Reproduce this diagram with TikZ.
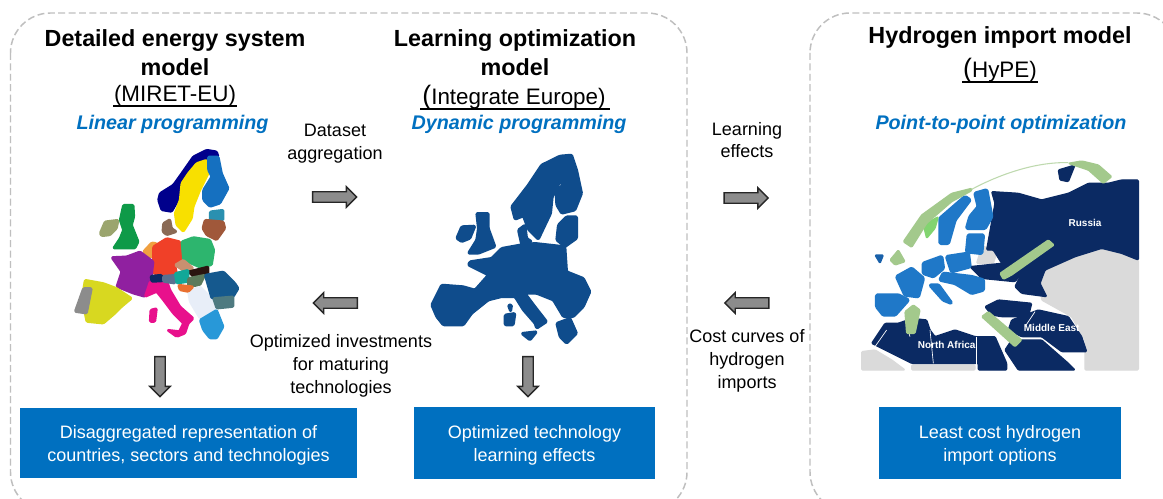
\documentclass[tikz,border=0pt]{standalone}
\usepackage{fontspec}
\setmainfont{Liberation Sans}
\usetikzlibrary{shapes.arrows}
\definecolor{bluebox}{HTML}{0070C0}
\definecolor{navy}{HTML}{0B2A63}
\definecolor{euro}{HTML}{1F78C8}
\definecolor{mapblue}{HTML}{0F4C8C}
\definecolor{arrowgreen}{HTML}{A3C98C}
\definecolor{land}{HTML}{DADADA}
\tikzset{
 panel/.style={draw=black!25,line width=1.1pt,dash pattern=on 5.2pt off 2.6pt,rounded corners=30pt},
 titletext/.style={font=\bfseries\fontsize{17.5}{21.75}\selectfont,align=center,text=black,inner sep=0},
 subtext/.style={font=\fontsize{16.8}{20}\selectfont,anchor=base,inner sep=0},
 methodtext/.style={font=\bfseries\itshape\fontsize{14.8}{18}\selectfont,text=bluebox,anchor=base,inner sep=0},
 labeltext/.style={font=\fontsize{13.5}{17}\selectfont,align=center,inner sep=0},
 bluebox/.style={fill=bluebox,text=white,font=\fontsize{13.5}{17.3}\selectfont,align=center,inner sep=0},
 blockarrow/.style={single arrow,draw=black!85,fill=black!45,line width=1pt,inner sep=3.4pt,minimum height=33pt,single arrow head extend=3.8pt,single arrow tip angle=90},
 pieceA/.style={shift={(60,150)},x=.25pt,y=-.25pt},
 pieceB/.style={shift={(420,150)},x=.25pt,y=-.25pt},
 pieceC/.style={shift={(855,160)},x=.25pt,y=-.25pt},
 maplabel/.style={text=white,font=\bfseries\fontsize{7.5}{8}\selectfont,inner sep=0},
 border/.style={white,line width=.5pt},
}
\newlength{\polywd}\setlength{\polywd}{1.7pt}
\newcommand{\fillpoly}[2]{\path[fill=#1,draw=#1,line width=\polywd,line join=round,rounded corners=.8pt] #2 -- cycle;}
\begin{document}
\begin{tikzpicture}[x=.75pt,y=-.75pt]
\useasboundingbox (0,0) rectangle (1163,499);
\fill[white] (0,0) rectangle (1163,499);
% panels
\draw[panel] (10.5,13) rectangle (687,512);
\draw[panel] (810,13) rectangle (1177,512);
% titles
\node[titletext] (t1) at (175,52.5) {Detailed energy system\\model};
\node[subtext] (s1) at (175,102) {(MIRET-EU)};
\draw[black,line width=.8pt] (113,106) -- (237,106);
\node[methodtext] (m1) at (172.5,130) {Linear programming};
\node[titletext] (t2) at (515,52.5) {Learning optimization\\model};
\node[subtext] (s2) at (514,105) {{\fontsize{20}{20}\selectfont (}Integrate Europe)};
\draw[black,line width=.8pt] (420,109) -- (610,109);
\node[methodtext] (m2) at (519,130) {Dynamic programming};
\node[titletext] (t3) at (1000,38) {Hydrogen import model};
\node[subtext] (s3) at (1000,78) {{\fontsize{20}{20}\selectfont (}HyPE)};
\draw[black,line width=.8pt] (962,82) -- (1038,82);
\node[methodtext] (m3) at (1001,130) {Point-to-point optimization};
% map A
\begin{scope}[pieceA]
\fillpoly{blue!55!black}{(300,130)--(340,105)--(365,70)--(400,20)--(440,0)--(470,5)--(475,20)--(440,25)--(410,40)--(380,80)--(360,110)--(355,150)--(335,185)--(305,180)--(295,150)}
\definecolor{c1}{HTML}{F8E000}\fillpoly{c1}{(410,40)--(440,30)--(445,70)--(420,120)--(400,170)--(395,205)--(370,245)--(350,225)--(345,190)--(360,150)--(365,100)--(385,70)}
\definecolor{c2}{HTML}{1570C0}\fillpoly{c2}{(445,20)--(475,20)--(485,70)--(505,115)--(480,160)--(450,170)--(430,150)--(430,120)--(455,80)--(445,60)}
\definecolor{c3}{HTML}{2A90B0}\fillpoly{c3}{(450,185)--(490,180)--(490,210)--(450,215)}
\definecolor{c4}{HTML}{A0583A}\fillpoly{c4}{(435,210)--(490,215)--(495,235)--(470,270)--(440,255)--(428,235)}
\definecolor{c5}{HTML}{8A6A55}\fillpoly{c5}{(310,220)--(330,208)--(335,235)--(350,245)--(320,255)--(308,245)}
\definecolor{c6}{HTML}{0E9A48}\fillpoly{c6}{(190,165)--(220,165)--(222,200)--(215,225)--(235,275)--(225,295)--(160,295)--(180,265)--(190,240)--(180,210)}
\definecolor{c7}{HTML}{9BA56E}\fillpoly{c7}{(120,250)--(135,215)--(175,210)--(170,235)--(150,255)--(125,258)}
\definecolor{c8}{HTML}{F0A040}\fillpoly{c8}{(250,305)--(275,278)--(290,280)--(280,320)--(265,320)}
\definecolor{c9}{HTML}{F04028}\fillpoly{c9}{(280,290)--(320,265)--(360,275)--(365,330)--(345,345)--(350,370)--(310,375)--(280,370)}
\definecolor{c10}{HTML}{2DB56E}\fillpoly{c10}{(365,275)--(400,262)--(450,270)--(462,300)--(455,345)--(420,352)--(370,330)}
\definecolor{c11}{HTML}{9020A0}\fillpoly{c11}{(155,322)--(200,320)--(240,305)--(280,335)--(275,375)--(270,405)--(255,440)--(220,430)--(170,410)--(185,365)}
\definecolor{c12}{HTML}{D8D820}\fillpoly{c12}{(75,390)--(130,400)--(170,415)--(215,445)--(185,470)--(165,490)--(130,520)--(80,515)--(75,490)--(70,420)}
\fillpoly{black!45}{(45,485)--(70,415)--(95,415)--(80,490)}
\definecolor{c13}{HTML}{E8108C}\fillpoly{c13}{(270,395)--(320,390)--(330,420)--(360,470)--(400,505)--(385,520)--(375,550)--(350,560)--(370,520)--(340,490)--(310,450)--(290,425)--(255,440)}
\fillpoly{navy}{(272,378)--(305,375)--(310,393)--(275,395)}
\fillpoly{c13}{(322,540)--(365,545)--(350,560)}
\fillpoly{c13}{(272,480)--(290,475)--(285,515)--(270,515)}
\definecolor{c14}{HTML}{5A7090}\fillpoly{c14}{(310,378)--(350,375)--(345,400)--(310,395)}
\definecolor{c15}{HTML}{C89070}\fillpoly{c15}{(345,345)--(370,330)--(400,355)--(375,365)}
\definecolor{c16}{HTML}{2A1410}\fillpoly{c16}{(385,365)--(445,350)--(445,370)--(400,380)}
\definecolor{c17}{HTML}{12A898}\fillpoly{c17}{(345,370)--(385,360)--(385,395)--(350,400)}
\definecolor{c18}{HTML}{5C7A5C}\fillpoly{c18}{(385,385)--(435,375)--(420,405)--(385,410)}
\definecolor{c19}{HTML}{E8EEF8}\fillpoly{c19}{(385,425)--(420,410)--(455,445)--(470,480)--(420,505)--(390,455)}
\definecolor{c20}{HTML}{E87030}\fillpoly{c20}{(355,405)--(400,410)--(385,425)--(360,420)}
\definecolor{c21}{HTML}{15598E}\fillpoly{c21}{(435,375)--(490,365)--(525,400)--(535,415)--(520,440)--(455,445)}
\definecolor{c22}{HTML}{4E7A80}\fillpoly{c22}{(460,445)--(520,440)--(520,470)--(470,475)}
\definecolor{c23}{HTML}{2898D8}\fillpoly{c23}{(420,510)--(470,480)--(490,530)--(470,565)--(450,565)--(430,540)}
\end{scope}
% map B
\begin{scope}[pieceB]
\setlength{\polywd}{2pt}
\fillpoly{mapblue}{(35,465)--(65,405)--(130,410)--(165,420)--(205,375)--(145,345)--(150,335)--(215,325)--(245,295)--(300,285)--(345,280)--(435,290)--(440,365)--(490,385)--(510,425)--(490,470)--(460,500)--(430,500)--(400,450)--(350,430)--(315,430)--(345,470)--(380,515)--(350,535)--(345,520)--(310,480)--(285,440)--(245,440)--(205,450)--(155,490)--(130,525)--(70,525)--(50,500)}
\fillpoly{mapblue}{(410,520)--(450,505)--(470,550)--(440,580)--(420,560)}
\fillpoly{mapblue}{(275,170)--(325,105)--(365,45)--(420,18)--(455,15)--(470,60)--(485,130)--(465,180)--(425,190)--(410,165)--(408,125)--(432,100)--(418,98)--(397,140)--(392,190)--(355,268)--(325,238)--(310,198)--(285,208)}
\fillpoly{mapblue}{(415,225)--(440,200)--(470,200)--(470,265)--(435,290)--(410,270)}
\fillpoly{mapblue}{(170,190)--(205,190)--(205,235)--(225,290)--(175,310)--(145,310)--(170,270)--(175,235)}
\fillpoly{mapblue}{(110,265)--(125,230)--(165,228)--(150,265)--(125,275)}
\fillpoly{mapblue}{(295,240)--(315,225)--(320,265)--(335,275)--(305,285)}
\fillpoly{mapblue}{(305,550)--(350,545)--(330,570)}
\fillpoly{mapblue}{(255,495)--(285,490)--(280,525)--(255,525)}
\fillpoly{mapblue}{(265,465)--(275,465)--(272,485)}
\end{scope}
% map C
\begin{scope}[pieceC]
\setlength{\polywd}{1pt}
\fillpoly{land}{(555,340)--(660,280)--(740,265)--(850,300)--(850,630)--(690,630)--(690,540)--(650,470)--(560,420)}
\fillpoly{land}{(20,575)--(60,570)--(110,600)--(150,630)--(20,630)}
\fillpoly{land}{(170,630)--(360,630)--(360,615)--(170,615)}
\fillpoly{land}{(380,260)--(430,265)--(415,310)--(365,310)}
\fillpoly{navy}{(395,270)--(420,130)--(410,95)--(490,100)--(560,120)--(640,100)--(700,70)--(760,70)--(800,60)--(850,60)--(850,300)--(800,280)--(740,265)--(660,290)--(570,330)--(555,370)--(575,410)--(500,400)--(480,380)--(500,340)--(440,310)--(415,270)}
\fillpoly{navy}{(610,30)--(660,15)--(640,65)--(615,60)}
\fillpoly{navy}{(345,320)--(440,310)--(500,340)--(480,365)--(430,360)--(380,355)}
\fillpoly{navy}{(390,440)--(430,420)--(530,430)--(520,470)--(440,470)--(410,465)}
\fillpoly{navy}{(470,480)--(550,450)--(640,470)--(680,530)--(695,575)--(620,575)--(560,530)--(500,530)--(460,510)}
\fillpoly{navy}{(470,540)--(560,540)--(640,610)--(660,630)--(490,630)--(450,570)}
\fillpoly{navy}{(50,550)--(90,490)--(130,490)--(170,475)--(215,480)--(225,510)--(240,530)--(300,510)--(360,530)--(420,530)--(455,610)--(455,630)--(370,630)--(370,610)--(170,610)--(110,580)}
\draw[border] (365,530) -- (365,630);
\draw[border] (225,510) -- (235,610);
\draw[border] (95,510) -- (60,560);
\draw[border] (150,480) -- (165,530);
\draw[border] (540,455) -- (510,500);
\setlength{\polywd}{2.6pt}
\fillpoly{euro}{(65,405)--(130,405)--(160,420)--(120,465)--(85,465)--(65,440)}
\fillpoly{euro}{(125,350)--(170,325)--(205,355)--(190,410)--(150,405)}
\fillpoly{euro}{(205,310)--(260,290)--(265,325)--(235,350)--(205,340)}
\fillpoly{euro}{(275,290)--(340,280)--(345,320)--(290,335)}
\fillpoly{euro}{(225,375)--(250,375)--(290,430)--(265,420)}
\fillpoly{euro}{(265,340)--(350,350)--(385,360)--(385,390)--(350,400)--(300,370)--(255,360)}
\fillpoly{euro}{(255,175)--(330,110)--(345,120)--(300,180)--(280,250)--(255,250)}
\fillpoly{euro}{(360,100)--(395,90)--(410,170)--(390,205)--(335,205)--(345,170)--(370,140)}
\fillpoly{euro}{(340,225)--(385,225)--(380,280)--(335,275)}
\setlength{\polywd}{1pt}
\fillpoly{arrowgreen}{(105,300)--(130,270)--(150,305)--(120,315)}
\fillpoly{euro!70!navy}{(60,285)--(85,285)--(75,310)}
\fillpoly{arrowgreen!80!green}{(205,195)--(250,170)--(240,205)--(215,235)}
\fillpoly{arrowgreen}{(145,245)--(200,165)--(290,100)--(350,85)--(350,92)--(290,125)--(215,190)--(170,262)}
\draw[arrowgreen!70,line width=.8pt] (350,88) .. controls (430,45) and (540,5) .. (640,8);
\fillpoly{arrowgreen}{(640,10)--(680,3)--(730,15)--(770,50)--(745,70)--(700,30)}
\fillpoly{arrowgreen}{(435,340)--(580,240)--(597,255)--(470,345)--(445,358)}
\fillpoly{arrowgreen}{(380,470)--(400,455)--(500,540)--(480,560)}
\fillpoly{arrowgreen}{(155,520)--(150,455)--(175,435)--(195,450)--(180,520)}
\node[maplabel] (r) at (690,190) {Russia};
\node[maplabel] (me) at (590,505) {Middle East};
\node[maplabel] (na) at (275,555) {North Africa};
\end{scope}
% connector labels
\node[labeltext] (l1) at (335,144) {Dataset\\aggregation};
\node[labeltext] (l2) at (341,366) {Optimized investments\\for maturing\\technologies};
\node[labeltext] (l3) at (747,140) {Learning\\effects};
\node[labeltext] (l4) at (747,361) {Cost curves of\\hydrogen\\imports};
% block arrows
\node[blockarrow] (a1) at (332,197) {};
\node[blockarrow,shape border rotate=180] (a2) at (338,303) {};
\node[blockarrow] (a3) at (743.5,198) {};
\node[blockarrow,shape border rotate=180] (a4) at (749.5,303) {};
\node[blockarrow,shape border rotate=270,minimum height=30pt] (a5) at (160,374) {};
\node[blockarrow,shape border rotate=270,minimum height=30pt] (a6) at (528,374) {};
% boxes
\node[bluebox,minimum width=252.75pt,minimum height=52.5pt] (b1) at (188.5,443) {\rule{0pt}{13.5pt}Disaggregated representation of\\countries, sectors and technologies};
\node[bluebox,minimum width=180.75pt,minimum height=54pt] (b2) at (534.5,443) {\rule{0pt}{13.5pt}Optimized technology\\learning effects};
\node[bluebox,minimum width=181.5pt,minimum height=54pt] (b3) at (1000,443) {\rule{0pt}{13.5pt}Least cost hydrogen\\import options};
\end{tikzpicture}
\end{document}
